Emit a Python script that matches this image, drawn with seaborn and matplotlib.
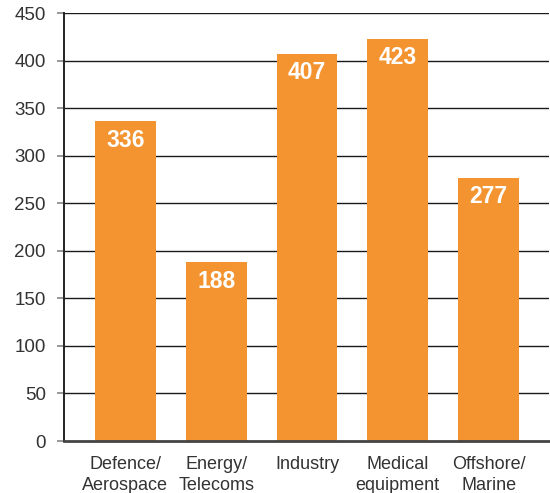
import matplotlib
matplotlib.use("Agg")
import matplotlib.pyplot as plt
import seaborn as sns
import pandas as pd
from matplotlib.transforms import offset_copy

categories = ["Defence/\nAerospace", "Energy/\nTelecoms", "Industry", "Medical\nequipment", "Offshore/\nMarine"]
values = [336, 188, 407, 423, 277]
yticks = [0, 50, 100, 150, 200, 250, 300, 350, 400, 450]

sns.set_theme(style="white")
plt.rcParams['font.family'] = ['Liberation Sans', 'DejaVu Sans']

df = pd.DataFrame({"cat": categories, "val": values})

fig = plt.figure(figsize=(5.5, 4.93), dpi=100)
ax = fig.add_axes([64/550, 52/493, 485/550, 428/493])

for y in yticks[1:]:
    ax.axhline(y, color="#1a1a1a", lw=1.0, zorder=1)

sns.barplot(data=df, x="cat", y="val", color="#F39430", saturation=1, width=0.67,
            linewidth=0, edgecolor="none", ax=ax, zorder=2)

ax.set_xlim(-0.676, 4.665)
ax.set_ylim(0, 450)
ax.set_yticks(yticks)
ax.set_xlabel("")
ax.set_ylabel("")

for s in ["top", "right"]:
    ax.spines[s].set_visible(False)
ax.spines["left"].set_color("#222222")
ax.spines["left"].set_linewidth(1.4)
ax.spines["bottom"].set_color("#444444")
ax.spines["bottom"].set_linewidth(2.0)
ax.spines["bottom"].set_zorder(3)

ax.tick_params(axis="y", left=True, length=5, width=1.2, color="#888888", pad=8,
               labelsize=13.5, labelcolor="#333333")
ax.tick_params(axis="x", bottom=False, pad=5, labelsize=13, labelcolor="#333333")
for lab in ax.get_xticklabels():
    lab.set_linespacing(1.25)

for i, v in enumerate(values):
    tr = offset_copy(ax.transData, fig=fig, x=0, y=-19, units="dots")
    ax.text(i, v, str(v), transform=tr, ha="center", va="center", color="white",
            fontsize=16.5, fontweight="bold", zorder=4)

fig.savefig("out.png", dpi=100)
